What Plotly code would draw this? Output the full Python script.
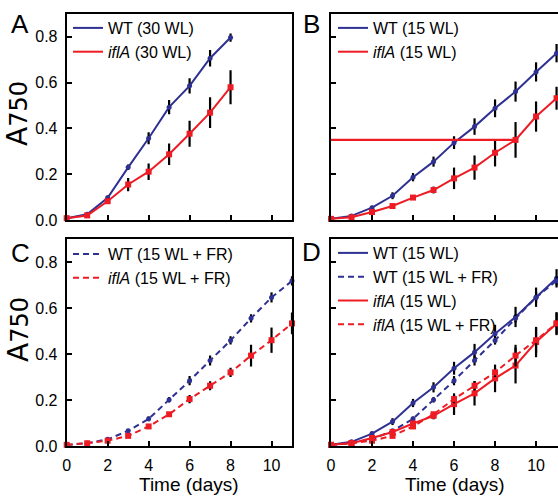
import plotly.graph_objects as go

# ---------------- data ----------------
days30 = [0, 1, 2, 3, 4, 5, 6, 7, 8]
wt30 = [0.008, 0.025, 0.097, 0.230, 0.357, 0.493, 0.586, 0.707, 0.797]
wt30_err = [0.004, 0.005, 0.010, 0.012, 0.026, 0.031, 0.033, 0.036, 0.018]
ifl30 = [0.008, 0.020, 0.082, 0.155, 0.211, 0.287, 0.377, 0.469, 0.580]
ifl30_err = [0.004, 0.005, 0.012, 0.029, 0.036, 0.047, 0.057, 0.067, 0.074]

days15 = [0, 1, 2, 3, 4, 5, 6, 7, 8, 9, 10, 11]
wt15 = [0.005, 0.018, 0.054, 0.106, 0.187, 0.255, 0.338, 0.408, 0.488, 0.561, 0.647, 0.729]
wt15_err = [0.003, 0.004, 0.008, 0.015, 0.018, 0.022, 0.028, 0.036, 0.039, 0.044, 0.042, 0.040]
ifl15 = [0.005, 0.012, 0.035, 0.061, 0.098, 0.131, 0.182, 0.229, 0.294, 0.350, 0.452, 0.532]
ifl15_err = [0.003, 0.004, 0.006, 0.008, 0.010, 0.015, 0.047, 0.053, 0.060, 0.078, 0.066, 0.050]

wtfr = [0.005, 0.012, 0.029, 0.066, 0.118, 0.201, 0.284, 0.372, 0.459, 0.555, 0.646, 0.718]
wtfr_err = [0.003, 0.004, 0.005, 0.008, 0.010, 0.012, 0.020, 0.022, 0.018, 0.018, 0.022, 0.020]
iflfr = [0.005, 0.012, 0.023, 0.044, 0.085, 0.138, 0.204, 0.262, 0.320, 0.393, 0.460, 0.533]
iflfr_err = [0.003, 0.004, 0.005, 0.006, 0.010, 0.010, 0.018, 0.020, 0.020, 0.047, 0.055, 0.047]

# stray horizontal segment visible in panel B (from day 0 to day 9 at the day-9 value)
b_stray_x = [0, 9]
b_stray_y = [ifl15[9], ifl15[9]]

x_ticks = [0, 2, 4, 6, 8, 10]
y_ticks = [0.0, 0.2, 0.4, 0.6, 0.8]
y_ticklabels = ["0.0", "0.2", "0.4", "0.6", "0.8"]
panel_labels = ["A", "B", "C", "D"]

# ---------------- style ----------------
BLUE = "#2e3192"
RED = "#ed1c24"
FONT = "Liberation Sans, Arial, sans-serif"
W, H = 558, 498

fig = go.Figure()


def add(x, y, err, name, color, dash, symbol, msize, xa, ya, legend):
    # line (carries the legend entry)
    fig.add_trace(go.Scatter(
        x=x, y=y, name=name, mode="lines",
        line=dict(color=color, width=2, dash=dash),
        xaxis=xa, yaxis=ya, legend=legend, showlegend=True, cliponaxis=False,
    ))
    # markers + error bars
    fig.add_trace(go.Scatter(
        x=x, y=y, name=name, mode="markers",
        marker=dict(color=color, symbol=symbol, size=msize),
        error_y=dict(type="data", array=err, visible=True, color="black",
                     thickness=2.2, width=0),
        xaxis=xa, yaxis=ya, showlegend=False, cliponaxis=False,
    ))


DASH = "6px,4px"
it = lambda s: "<i>iflA</i> " + s

# Panel A
add(days30, wt30, wt30_err, "WT (30 WL)", BLUE, "solid", "circle", 5, "x", "y", "legend")
add(days30, ifl30, ifl30_err, it("(30 WL)"), RED, "solid", "square", 6, "x", "y", "legend")
# Panel B
add(days15, wt15, wt15_err, "WT (15 WL)", BLUE, "solid", "circle", 5, "x2", "y2", "legend2")
add(days15, ifl15, ifl15_err, it("(15 WL)"), RED, "solid", "square", 6, "x2", "y2", "legend2")
fig.add_trace(go.Scatter(x=b_stray_x, y=b_stray_y, mode="lines",
                         line=dict(color=RED, width=2.2), showlegend=False,
                         xaxis="x2", yaxis="y2", hoverinfo="skip"))
# Panel C
add(days15, wtfr, wtfr_err, "WT (15 WL + FR)", BLUE, DASH, "circle", 5, "x3", "y3", "legend3")
add(days15, iflfr, iflfr_err, it("(15 WL + FR)"), RED, DASH, "square", 6, "x3", "y3", "legend3")
# Panel D
add(days15, wt15, wt15_err, "WT (15 WL)", BLUE, "solid", "circle", 5, "x4", "y4", "legend4")
add(days15, wtfr, wtfr_err, "WT (15 WL + FR)", BLUE, DASH, "circle", 5, "x4", "y4", "legend4")
add(days15, ifl15, ifl15_err, it("(15 WL)"), RED, "solid", "square", 6, "x4", "y4", "legend4")
add(days15, iflfr, iflfr_err, it("(15 WL + FR)"), RED, DASH, "square", 6, "x4", "y4", "legend4")

# ---------------- layout ----------------
colL = [66.7 / W, 292 / W]
colR = [331 / W, 1.0]
rowT = [1 - 220 / H, 1 - 14 / H]
rowB = [1 - 446 / H, 1 - 239 / H]

tickfont = dict(family=FONT, size=16, color="black")


def xax(domain, anchor, labels, xmax, mirror=True):
    return dict(domain=domain, anchor=anchor, range=[0, xmax], tickvals=x_ticks,
                showticklabels=labels, ticks="inside", ticklen=5, tickwidth=1.5,
                tickcolor="black", showline=True, linecolor="black", linewidth=2,
                mirror=mirror, showgrid=False, zeroline=False, tickfont=tickfont,
                ticklabelstandoff=4, automargin=False)


def yax(domain, anchor, labels, mirror=True):
    return dict(domain=domain, anchor=anchor, range=[0, 0.9], tickvals=y_ticks,
                ticktext=y_ticklabels, showticklabels=labels, ticks="inside",
                ticklen=5, tickwidth=1.5, tickcolor="black", showline=True,
                linecolor="black", linewidth=2, mirror=mirror, showgrid=False,
                zeroline=False, tickfont=tickfont, ticklabelstandoff=4,
                automargin=False)


def leg(xpx, ypx):
    return dict(x=xpx / W, y=1 - ypx / H, xanchor="left", yanchor="top",
                bgcolor="rgba(0,0,0,0)", borderwidth=0,
                font=dict(family=FONT, size=16, color="black"),
                itemwidth=30, tracegroupgap=0)


annotations = []
for lab, (xp, yp) in zip(panel_labels, [(20, 24), (312, 24), (20, 253), (312, 252)]):
    annotations.append(dict(text=lab, x=xp / W, y=1 - yp / H, xref="paper", yref="paper",
                            showarrow=False, xanchor="center", yanchor="middle",
                            font=dict(family=FONT, size=26, color="black")))
for yp in [114, 330]:
    annotations.append(dict(text="A<span style='font-size:24px'>750</span>",
                            x=18 / W, y=1 - yp / H, xref="paper", yref="paper",
                            showarrow=False, textangle=-90, xanchor="center",
                            yanchor="middle",
                            font=dict(family="DejaVu Sans, Liberation Sans, sans-serif",
                                      size=28, color="black")))
for xp in [188.5, 454.5]:
    annotations.append(dict(text="Time (days)", x=xp / W, y=1 - 484 / H,
                            xref="paper", yref="paper", showarrow=False,
                            xanchor="center", yanchor="middle",
                            font=dict(family=FONT, size=19, color="black")))

fig.update_layout(
    width=W, height=H, autosize=False,
    margin=dict(l=0, r=0, t=0, b=0, pad=0),
    paper_bgcolor="white", plot_bgcolor="white",
    xaxis=xax(colL, "y", False, 11),
    yaxis=yax(rowT, "x", True),
    xaxis2=xax(colR, "y2", False, 11.07),
    yaxis2=yax(rowT, "x2", False, mirror=False),
    xaxis3=xax(colL, "y3", True, 11),
    yaxis3=yax(rowB, "x3", True),
    xaxis4=xax(colR, "y4", True, 11.07),
    yaxis4=yax(rowB, "x4", False, mirror=False),
    legend=leg(68, 11),
    legend2=leg(333, 11),
    legend3=leg(68, 237),
    legend4=leg(333, 236),
    annotations=annotations,
    showlegend=True,
)

fig.write_html(
    "out.html",
    config={"displayModeBar": False},
    post_script="document.body.style.margin='0px';document.body.style.overflow='hidden';",
)
